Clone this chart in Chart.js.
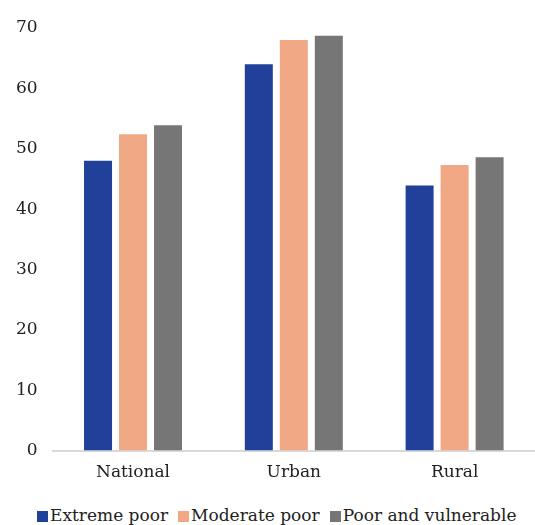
<!DOCTYPE html>
<html>
<head>
<meta charset="utf-8">
<script src="https://cdn.jsdelivr.net/npm/chart.js@4/dist/chart.umd.min.js"></script>
<style>
  html, body { margin: 0; padding: 0; background: #fff; }
  #wrap { position: relative; width: 535px; height: 525px; }
  #chartBox { position: absolute; left: 0; top: 0; width: 535px; height: 495px; }
  #legend {
    position: absolute; left: 37px; top: 505px;
    display: flex; white-space: nowrap;
    font-family: "DejaVu Serif", serif; font-size: 17px; color: #222;
  }
  .item { display: flex; align-items: center; margin-right: 10px; }
  .swatch { width: 11px; height: 11px; margin-right: 2px; margin-top: 3px; }
</style>
</head>
<body>
<div id="wrap">
  <div id="chartBox"><canvas id="povertyChart"></canvas></div>
  <div id="legend"></div>
</div>
<script>
// Share of each poverty group, by area
const categories = ['National', 'Urban', 'Rural'];
const extremePoor = [48.0, 64.0, 43.9];
const moderatePoor = [52.4, 68.0, 47.3];
const poorVulnerable = [53.9, 68.7, 48.6];
const yTicks = [0, 10, 20, 30, 40, 50, 60, 70];

const seriesNames = ['Extreme poor', 'Moderate poor', 'Poor and vulnerable'];
const seriesColors = ['#21409A', '#F1A985', '#767676'];
const seriesValues = [extremePoor, moderatePoor, poorVulnerable];

const serif = '"DejaVu Serif", serif';

const ctx = document.getElementById('povertyChart').getContext('2d');
const chart = new Chart(ctx, {
    type: 'bar',
    data: {
        labels: categories,
        datasets: seriesNames.map((name, i) => ({
            label: name,
            data: seriesValues[i],
            backgroundColor: seriesColors[i],
            borderWidth: 0,
            barPercentage: 0.8,
            categoryPercentage: 0.653
        }))
    },
    options: {
        responsive: true,
        maintainAspectRatio: false,
        animation: false,
        layout: {
            padding: { top: 28, right: 0, bottom: 0, left: 1 }
        },
        scales: {
            x: {
                grid: { display: false, drawTicks: false },
                border: { display: true, color: '#d9d9d9', width: 2 },
                ticks: {
                    padding: 12,
                    color: '#222',
                    font: { family: serif, size: 17 }
                }
            },
            y: {
                min: 0,
                max: 70,
                afterBuildTicks: (axis) => {
                    axis.ticks = yTicks.map(v => ({ value: v }));
                },
                grid: { display: false, drawTicks: false },
                border: { display: false },
                ticks: {
                    padding: 15,
                    color: '#222',
                    font: { family: serif, size: 17 }
                }
            }
        },
        plugins: {
            legend: { display: false },
            tooltip: { enabled: false }
        }
    }
});

// Legend drawn under the canvas from the chart's datasets
const legendEl = document.getElementById('legend');
chart.data.datasets.forEach(ds => {
    const item = document.createElement('div');
    item.className = 'item';
    const sw = document.createElement('span');
    sw.className = 'swatch';
    sw.style.backgroundColor = ds.backgroundColor;
    const txt = document.createElement('span');
    txt.textContent = ds.label;
    item.appendChild(sw);
    item.appendChild(txt);
    legendEl.appendChild(item);
});
</script>
</body>
</html>
